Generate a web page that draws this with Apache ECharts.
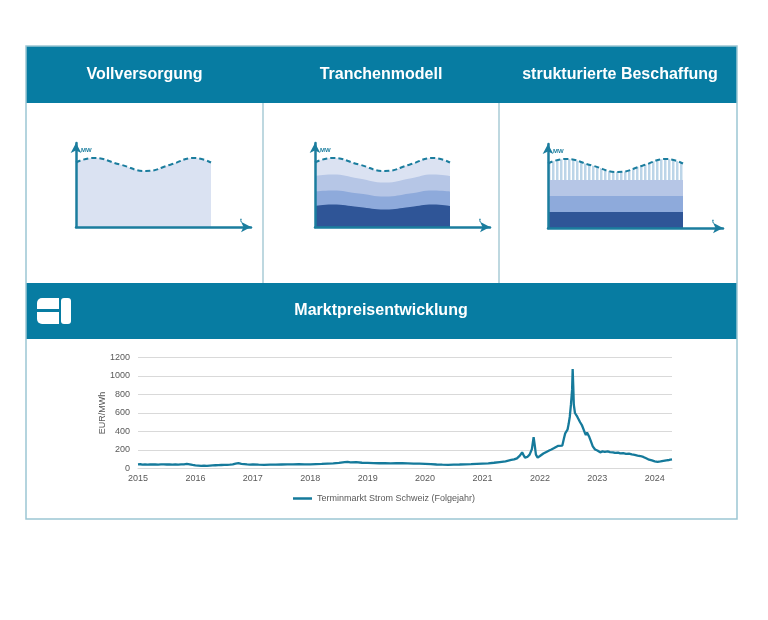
<!DOCTYPE html>
<html><head><meta charset="utf-8">
<script src="https://cdn.jsdelivr.net/npm/echarts@6/dist/echarts.min.js"></script>
<style>html,body{margin:0;padding:0;background:#fff}#c{width:768px;height:620px}</style>
</head><body><div id="c"></div>
<script>
// ---- Price chart data (Terminmarkt Strom Schweiz, Folgejahr) ----
const priceName = 'Terminmarkt Strom Schweiz (Folgejahr)';
const priceYears = [
 2015.00,2015.04,2015.08,2015.12,2015.17,2015.21,2015.25,2015.30,2015.35,2015.40,2015.45,2015.50,2015.55,2015.60,2015.65,2015.70,2015.75,2015.80,2015.85,2015.90,2015.95,
 2016.00,2016.05,2016.10,2016.15,2016.20,2016.25,2016.30,2016.35,2016.40,2016.45,2016.50,2016.55,2016.60,2016.65,2016.70,2016.75,2016.80,2016.85,2016.90,2016.95,
 2017.00,2017.10,2017.20,2017.30,2017.40,2017.50,2017.60,2017.70,2017.80,2017.90,
 2018.00,2018.10,2018.20,2018.30,2018.40,2018.50,2018.60,2018.65,2018.70,2018.80,2018.90,
 2019.00,2019.10,2019.20,2019.30,2019.40,2019.50,2019.60,2019.70,2019.80,2019.90,
 2020.00,2020.10,2020.20,2020.30,2020.40,2020.50,2020.60,2020.70,2020.80,2020.90,
 2021.00,2021.10,2021.20,2021.30,2021.40,2021.50,2021.55,2021.60,2021.65,2021.69,2021.71,2021.74,2021.78,2021.82,2021.86,2021.89,2021.91,2021.93,2021.96,
 2022.00,2022.03,2022.06,2022.09,2022.12,2022.16,2022.20,2022.24,2022.28,2022.32,2022.35,2022.39,2022.42,2022.44,2022.46,2022.48,2022.50,2022.52,2022.54,2022.56,2022.57,2022.58,2022.59,2022.61,2022.63,2022.65,2022.67,2022.70,2022.73,2022.75,2022.78,2022.80,2022.82,2022.84,2022.86,2022.89,2022.92,2022.96,
 2023.00,2023.05,2023.09,2023.13,2023.18,2023.22,2023.27,2023.31,2023.36,2023.40,2023.45,2023.50,2023.55,2023.60,2023.65,2023.70,2023.75,2023.80,2023.85,2023.90,2023.95,
 2024.00,2024.05,2024.10,2024.15,2024.20,2024.25,2024.30
];
const priceValues = [
 44,46,43,45,42,44,43,45,42,44,45,43,44,41,43,42,44,45,49,44,38,
 33,31,28,30,29,31,33,35,36,38,40,39,41,44,52,57,50,47,44,42,
 43,41,40,42,41,43,45,44,46,45,
 44,47,49,53,56,60,68,72,66,68,62,
 60,58,57,59,56,58,57,55,53,52,
 50,47,43,41,40,42,43,45,47,50,
 53,56,62,70,78,92,98,110,140,175,150,118,125,150,210,340,250,150,118,
 135,150,162,175,182,195,205,218,232,245,255,248,330,380,370,420,480,560,690,850,1076,900,690,600,620,560,540,500,470,450,390,362,390,410,340,290,240,205,
 195,175,185,180,186,178,175,168,172,163,165,158,160,152,148,140,135,125,110,95,88,
 78,72,76,82,88,92,98
];
const yearTicks = [2015,2016,2017,2018,2019,2020,2021,2022,2023,2024];
const priceTicks = [0,200,400,600,800,1000,1200];

// ---- Schematic panels (load profile in MW over time t) ----
const panelTitles = ['Vollversorgung','Tranchenmodell','strukturierte Beschaffung'];
const waveX = [0,17,44,70,95,118,135];
const loadCurve = [64.5,69,62.5,56,62.5,69,64.5];
const trancheLight = [51,52.5,48.5,44.5,48.5,52.5,51];
const trancheMedium = [35.5,36.5,33.5,30.5,33.5,36.5,35.5];
const trancheDark = [21,22.5,20,17.5,20,22.5,21];
const blockX = [0,135];
const structuredBands = [48,32,16];

const TEAL = '#077ca2';
const AXIS = '#1b7d9e';
const FONT = "'Liberation Sans', Arial, sans-serif";

const zip = (xs, ys) => xs.map((x, i) => [x, ys[i]]);

const pc = document.createElement('canvas'); pc.width = 4; pc.height = 4;
const g = pc.getContext('2d');
g.fillStyle = '#bcd5e8'; g.fillRect(0,0,4,4);
g.fillStyle = '#ffffff'; g.fillRect(2.5,0,1.5,4);

const panelGrids = [
  {left:76, top:143, width:175, height:84},
  {left:315, top:143, width:175, height:84},
  {left:548, top:144, width:175, height:84}
];

const grids = [{left:138, top:357.5, right:96, bottom:151.5}].concat(panelGrids);

const xAxes = [{
  type:'value', gridIndex:0, min:yearTicks[0], max:priceYears[priceYears.length-1], interval:1,
  axisLine:{show:true, lineStyle:{color:'#d9d9d9'}},
  axisTick:{show:false}, splitLine:{show:false},
  axisLabel:{color:'#595959', fontSize:9, fontFamily:FONT, margin:6, showMaxLabel:false,
    formatter: v => (Math.abs(v - Math.round(v)) < 1e-6 && yearTicks.indexOf(Math.round(v))>=0) ? String(Math.round(v)) : ''}
}];
const yAxes = [{
  type:'value', gridIndex:0, min:priceTicks[0], max:priceTicks[priceTicks.length-1], interval:200,
  axisLine:{show:false}, axisTick:{show:false},
  splitLine:{lineStyle:{color:'#d9d9d9'}},
  axisLabel:{color:'#595959', fontSize:9, fontFamily:FONT, margin:8, formatter: v => String(v)},
  name:'EUR/MWh', nameLocation:'middle', nameGap:31, nameMoveOverlap:false,
  nameTextStyle:{color:'#595959', fontSize:9, fontFamily:FONT}
}];
for (let i = 0; i < 3; i++) {
  xAxes.push({type:'value', gridIndex:i+1, min:0, max:175, z:10,
    axisLine:{show:true, symbol:['none','arrow'], symbolSize:[8,10], lineStyle:{color:AXIS, width:2.5}},
    axisTick:{show:false}, axisLabel:{show:false}, splitLine:{show:false},
    name:'t', nameLocation:'end', nameGap:-10,
    nameTextStyle:{color:AXIS, fontSize:6, fontWeight:'bold', fontFamily:FONT, align:'center', verticalAlign:'bottom', padding:[0,0,4,0]}});
  yAxes.push({type:'value', gridIndex:i+1, min:0, max:84, z:10,
    axisLine:{show:true, symbol:['none','arrow'], symbolSize:[8,10], lineStyle:{color:AXIS, width:2.5}},
    axisTick:{show:false}, axisLabel:{show:false}, splitLine:{show:false},
    name:'MW', nameLocation:'end', nameGap:-7,
    nameTextStyle:{color:AXIS, fontSize:6, fontWeight:'bold', fontFamily:FONT, align:'left', verticalAlign:'middle', padding:[0,0,0,5]}});
}

function area(idx, xs, ys, fill, dashed) {
  return {type:'line', xAxisIndex:idx, yAxisIndex:idx, data:zip(xs, ys), smooth:0.5, symbol:'none', silent:true,
    lineStyle: dashed ? {color:AXIS, width:2, type:[5,3]} : {width:0, opacity:0},
    areaStyle:{color:fill, opacity:1}};
}

const series = [
  {name:priceName, type:'line', xAxisIndex:0, yAxisIndex:0, data:zip(priceYears, priceValues),
   symbol:'none', lineStyle:{color:'#157a9b', width:2.3}, itemStyle:{color:'#157a9b'}},
  area(1, waveX, loadCurve, '#dae2f2', true),
  area(2, waveX, loadCurve, '#dbe2f2', true),
  area(2, waveX, trancheLight, '#b6c6e6', false),
  area(2, waveX, trancheMedium, '#8eaadb', false),
  area(2, waveX, trancheDark, '#2f5597', false),
  area(3, waveX, loadCurve, {image:pc, repeat:'repeat'}, true),
  area(3, blockX, [structuredBands[0], structuredBands[0]], '#b6c6e6', false),
  area(3, blockX, [structuredBands[1], structuredBands[1]], '#8eaadb', false),
  area(3, blockX, [structuredBands[2], structuredBands[2]], '#2f5597', false)
];

const panelCenters = [144.5, 381, 620];
const graphic = [
  {type:'rect', z:0, shape:{x:26, y:46, width:711, height:57}, style:{fill:TEAL}},
  {type:'rect', z:0, shape:{x:26, y:283, width:711, height:56}, style:{fill:TEAL}},
  {type:'rect', z:0, shape:{x:26, y:46, width:711, height:473}, style:{fill:null, stroke:'#9cc6d3', lineWidth:1.5}},
  {type:'line', z:0, shape:{x1:263, y1:103, x2:263, y2:283}, style:{stroke:'#a9cbd6', lineWidth:1.5}},
  {type:'line', z:0, shape:{x1:499, y1:103, x2:499, y2:283}, style:{stroke:'#a9cbd6', lineWidth:1.5}},
  {type:'rect', z:5, shape:{x:37, y:298, width:22, height:11, r:[5,0,0,0]}, style:{fill:'#fff'}},
  {type:'rect', z:5, shape:{x:37, y:312, width:22, height:12, r:[0,0,0,5]}, style:{fill:'#fff'}},
  {type:'rect', z:5, shape:{x:61, y:298, width:10, height:26, r:3}, style:{fill:'#fff'}},
  {type:'text', z:10, x:381, y:311, style:{text:'Marktpreisentwicklung', fill:'#fff', font:'bold 16px ' + FONT, align:'center', verticalAlign:'middle'}}
];
panelTitles.forEach((t, i) => graphic.push({type:'text', z:10, x:panelCenters[i], y:75,
  style:{text:t, fill:'#fff', font:'bold 16px ' + FONT, align:'center', verticalAlign:'middle'}}));

const chart = echarts.init(document.getElementById('c'), null, {renderer:'canvas'});
chart.setOption({
  animation:false,
  backgroundColor:'#fff',
  grid:grids, xAxis:xAxes, yAxis:yAxes, series:series, graphic:graphic,
  legend:{data:[{name:priceName, icon:'rect'}], left:'center', top:489, itemWidth:19, itemHeight:2.5, itemGap:10,
    textStyle:{color:'#595959', fontSize:9, fontFamily:FONT}}
});
</script></body></html>
